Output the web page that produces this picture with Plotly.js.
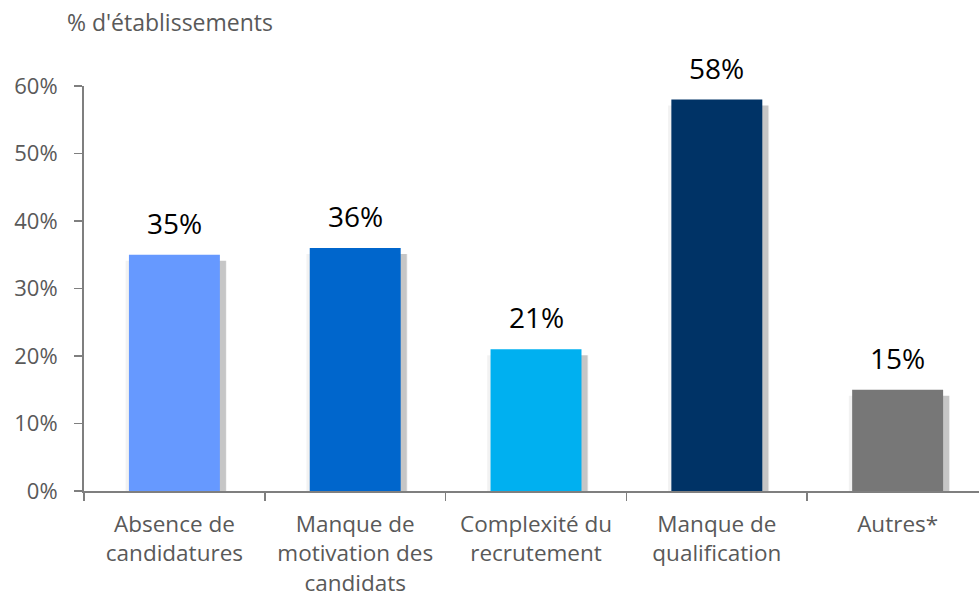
<!DOCTYPE html>
<html>
<head>
<meta charset="utf-8">
<script src="https://cdn.plot.ly/plotly-3.0.1.min.js"></script>
<style>html,body{margin:0;padding:0;background:#fff;}#chart{width:979px;height:600px;}</style>
</head>
<body>
<div id="chart"></div>
<script>
const categories = ["Absence de<br>candidatures", "Manque de<br>motivation des<br>candidats", "Complexité du<br>recrutement", "Manque de<br>qualification", "Autres*"];
const values = [35, 36, 21, 58, 15];
const labels = ["35%", "36%", "21%", "58%", "15%"];
const barColors = ["#6699FF", "#0066CC", "#00B0F0", "#003366", "#777777"];
const yTickVals = [0, 10, 20, 30, 40, 50, 60];
const yTickText = ["0%", "10%", "20%", "30%", "40%", "50%", "60%"];
const yTitle = "% d'établissements";

const FONT = "Open Sans, sans-serif";
const shadowDrop = 0.9;
const shadowVals = values.map(v => v - shadowDrop);

const traces = [
  {type: "bar", x: categories, y: shadowVals, width: 0.56, offset: -0.27,
   marker: {color: "rgba(0,0,0,0.05)"}, hoverinfo: "skip", showlegend: false},
  {type: "bar", x: categories, y: shadowVals, width: 0.52, offset: -0.235,
   marker: {color: "rgba(0,0,0,0.18)"}, hoverinfo: "skip", showlegend: false},
  {type: "bar", x: categories, y: values, width: 0.503, offset: -0.2515,
   marker: {color: barColors}, showlegend: false}
];

const dataLabels = categories.map((c, i) => ({
  x: c, y: values[i], xref: "x", yref: "y", text: labels[i], showarrow: false,
  xanchor: "center", yanchor: "bottom", yshift: 11,
  font: {family: FONT, size: 28, color: "#000000"}
}));

const layout = {
  width: 979, height: 600,
  margin: {l: 84, r: 0, t: 86, b: 109},
  paper_bgcolor: "#ffffff", plot_bgcolor: "#ffffff",
  barmode: "overlay",
  font: {family: FONT, color: "#595959", size: 22},
  xaxis: {type: "category", range: [-0.5, 4.45], showline: true, linecolor: "#7f7f7f", linewidth: 2,
          ticks: "outside", tickson: "boundaries", ticklen: 8, tickwidth: 1.5, tickcolor: "#7f7f7f",
          ticklabelstandoff: 12,
          tickfont: {family: FONT, size: 22.5, color: "#595959"}, showgrid: false, zeroline: false, fixedrange: true},
  yaxis: {range: [0, 60], tickvals: yTickVals, ticktext: yTickText, showline: true, linecolor: "#7f7f7f", linewidth: 2,
          ticks: "outside", ticklen: 8, tickwidth: 1.5, tickcolor: "#7f7f7f", showgrid: false, zeroline: false,
          ticklabelstandoff: 12,
          tickfont: {family: FONT, size: 22, color: "#595959"}, fixedrange: true},
  annotations: [{text: yTitle, xref: "paper", yref: "paper", x: -0.021, y: 1.158, xanchor: "left", yanchor: "middle",
                 showarrow: false, font: {family: FONT, size: 23, color: "#595959"}}].concat(dataLabels)
};

Plotly.newPlot("chart", traces, layout, {displayModeBar: false, staticPlot: true});
</script>
</body>
</html>
